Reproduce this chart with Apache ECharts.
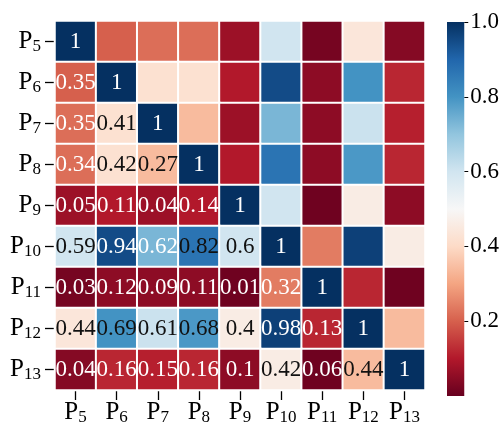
<!DOCTYPE html>
<html>
<head>
<meta charset="utf-8">
<script src="https://cdn.jsdelivr.net/npm/echarts@6/dist/echarts.min.js"></script>
<style>html,body{margin:0;padding:0;background:#fff;}#c{width:502px;height:428px;}</style>
</head>
<body>
<div id="c"></div>
<script>
// ---- data ----
const categories = ['5', '6', '7', '8', '9', '10', '11', '12', '13'];
// annotation texts (lower triangle incl. diagonal), row i has i+1 entries
const labelRows = [
  ['1'],
  ['0.35', '1'],
  ['0.35', '0.41', '1'],
  ['0.34', '0.42', '0.27', '1'],
  ['0.05', '0.11', '0.04', '0.14', '1'],
  ['0.59', '0.94', '0.62', '0.82', '0.6', '1'],
  ['0.03', '0.12', '0.09', '0.11', '0.01', '0.32', '1'],
  ['0.44', '0.69', '0.61', '0.68', '0.4', '0.98', '0.13', '1'],
  ['0.04', '0.16', '0.15', '0.16', '0.1', '0.42', '0.06', '0.44', '1']
];
// colour values (lower triangle, matrix is symmetric)
const colorRows = [
  [1],
  [0.20, 1],
  [0.22, 0.42, 1],
  [0.22, 0.42, 0.34, 1],
  [0.07, 0.10, 0.07, 0.10, 1],
  [0.60, 0.95, 0.73, 0.87, 0.60, 1],
  [0.02, 0.05, 0.05, 0.05, 0.01, 0.24, 1],
  [0.44, 0.80, 0.61, 0.79, 0.46, 0.97, 0.12, 1],
  [0.04, 0.12, 0.11, 0.12, 0.05, 0.46, 0.01, 0.34, 1]
];
const colorbarRange = [0, 1];
const colorbarTicks = [0.2, 0.4, 0.6, 0.8, 1.0];

// ---- style ----
const RdBu = ['#67001f', '#b2182b', '#d6604d', '#f4a582', '#fddbc7', '#f7f7f7',
              '#d1e5f0', '#92c5de', '#4393c3', '#2166ac', '#053061'];
// cells whose annotation is drawn in dark ink [row, col]
const darkInk = [[2,1],[3,1],[3,2],[5,0],[5,3],[5,4],[7,0],[7,1],[7,2],[7,3],[7,4],[8,5],[8,7]];
const FONT = 'Liberation Serif';

const n = categories.length;
const isDark = (r, c) => darkInk.some(d => d[0] === r && d[1] === c);
const heatData = [];
for (let r = 0; r < n; r++) {
  for (let c = 0; c < n; c++) {
    const v = r >= c ? colorRows[r][c] : colorRows[c][r];
    const txt = r >= c ? labelRows[r][c] : '';
    heatData.push({
      value: [c, r, v, txt],
      label: { color: isDark(r, c) ? '#111' : '#fff' }
    });
  }
}

const subRich = {
  p: { fontFamily: FONT, fontSize: 25, color: '#000', lineHeight: 28, verticalAlign: 'middle' },
  s: { fontFamily: FONT, fontSize: 17, color: '#000', lineHeight: 16, verticalAlign: 'bottom' }
};
const pFmt = v => '{p|P}{s|' + v + '}';

const stops = RdBu.map((col, i) => ({ offset: i / (RdBu.length - 1), color: col }));

const chart = echarts.init(document.getElementById('c'), null, { renderer: 'canvas' });
chart.setOption({
  animation: false,
  backgroundColor: '#fff',
  grid: [
    { left: 55, top: 21, width: 370, height: 369 },
    { left: 447, top: 22, width: 18, height: 374 }
  ],
  xAxis: [
    {
      type: 'category', gridIndex: 0, data: categories, position: 'bottom',
      axisLine: { show: false },
      axisTick: { show: true, alignWithLabel: true, length: 10, lineStyle: { color: '#000', width: 1.3 } },
      axisLabel: { interval: 0, margin: 8, formatter: pFmt, rich: subRich },
      splitLine: { show: false }
    },
    {
      type: 'category', gridIndex: 1, data: ['cb'], show: false
    }
  ],
  yAxis: [
    {
      type: 'category', gridIndex: 0, data: categories, inverse: true,
      axisLine: { show: false },
      axisTick: { show: true, alignWithLabel: true, length: 10, lineStyle: { color: '#000', width: 1.3 } },
      axisLabel: { interval: 0, margin: 14, formatter: pFmt, rich: subRich },
      splitLine: { show: false }
    },
    {
      type: 'value', gridIndex: 1, position: 'right',
      min: colorbarRange[0], max: colorbarRange[1],
      axisLine: { show: false },
      splitLine: { show: false },
      axisTick: { show: true, length: 4, customValues: colorbarTicks, lineStyle: { color: '#000', width: 1 } },
      axisLabel: {
        customValues: colorbarTicks, margin: 6, color: '#000',
        fontFamily: FONT, fontSize: 23,
        formatter: v => Number(v).toFixed(1)
      }
    }
  ],
  visualMap: {
    type: 'continuous', show: false, seriesIndex: 0, dimension: 2,
    min: colorbarRange[0], max: colorbarRange[1],
    inRange: { color: RdBu }
  },
  series: [
    {
      type: 'heatmap', xAxisIndex: 0, yAxisIndex: 0,
      data: heatData,
      itemStyle: { borderColor: '#fff', borderWidth: 2 },
      emphasis: { disabled: true },
      label: {
        show: true, fontFamily: FONT, fontSize: 23,
        formatter: p => p.value[3]
      }
    },
    {
      type: 'bar', xAxisIndex: 1, yAxisIndex: 1,
      data: [colorbarRange[1]], barWidth: '100%', silent: true,
      itemStyle: { color: new echarts.graphic.LinearGradient(0, 1, 0, 0, stops) }
    }
  ]
});
</script>
</body>
</html>
